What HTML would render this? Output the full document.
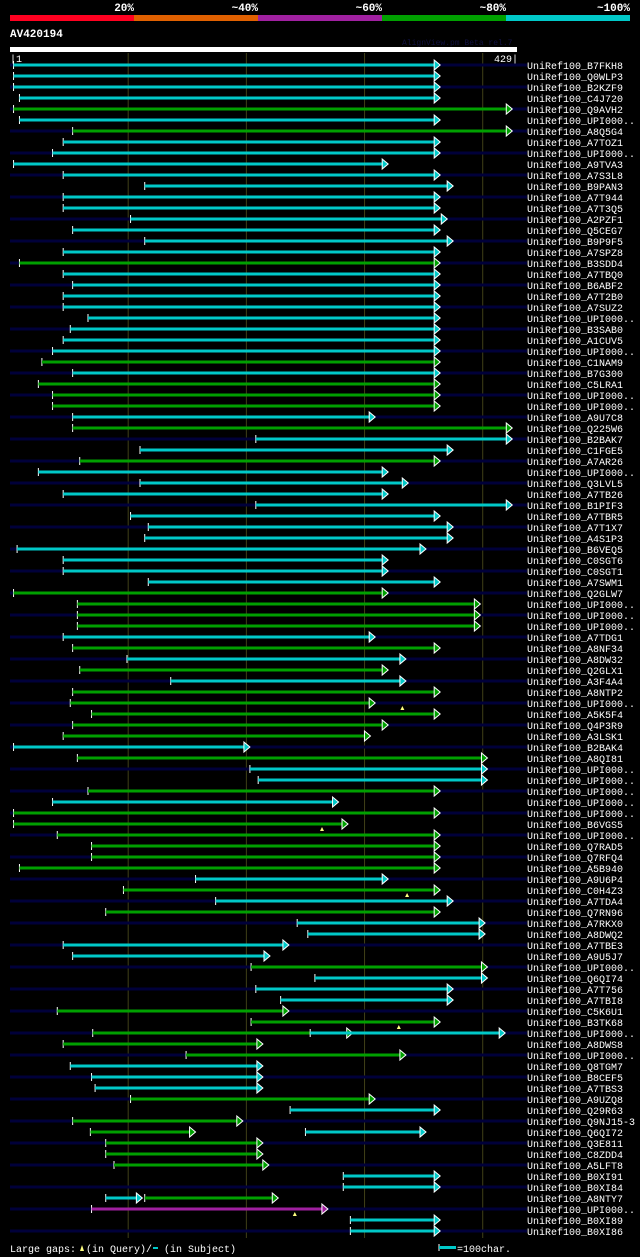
<!DOCTYPE html>
<html><head><meta charset="utf-8"><style>
html,body{margin:0;padding:0;background:#000;}
svg{display:block;}
text{font-family:"Liberation Mono","DejaVu Sans Mono",monospace;}
</style></head><body>
<svg id="chart" width="640" height="1257" viewBox="0 0 640 1257" xmlns="http://www.w3.org/2000/svg">
<rect width="640" height="1257" fill="#000"/>
<g>
<rect x="10" y="15" width="124" height="6" fill="#ff0020"/>
<rect x="134" y="15" width="124" height="6" fill="#e06000"/>
<rect x="258" y="15" width="124" height="6" fill="#a020a0"/>
<rect x="382" y="15" width="124" height="6" fill="#00a000"/>
<rect x="506" y="15" width="124" height="6" fill="#00c8c8"/>
<text x="134" y="11" fill="#fff" font-size="11" font-weight="bold" text-anchor="end">20%</text>
<text x="258" y="11" fill="#fff" font-size="11" font-weight="bold" text-anchor="end">~40%</text>
<text x="382" y="11" fill="#fff" font-size="11" font-weight="bold" text-anchor="end">~60%</text>
<text x="506" y="11" fill="#fff" font-size="11" font-weight="bold" text-anchor="end">~80%</text>
<text x="630" y="11" fill="#fff" font-size="11" font-weight="bold" text-anchor="end">~100%</text>
</g>
<text x="10" y="37" fill="#fff" font-size="11" font-weight="bold">AV420194</text>
<text x="402" y="45" fill="#101040" font-size="8">AlignView.pm Beta rel.7</text>
<rect x="10" y="47" width="507" height="5" fill="#fff"/>
<text x="10" y="62" fill="#fff" font-size="10">|1</text>
<text x="518" y="62" fill="#fff" font-size="10" text-anchor="end">429|</text>
<g id="grid"></g><g id="rows"></g>
<g>
<text x="10" y="1252" fill="#fff" font-size="10">Large gaps:</text>
<polygon points="80,1251 82,1245 84,1251" fill="#ffff80"/>
<text x="86" y="1252" fill="#fff" font-size="10">(in Query)/</text>
<line x1="153" y1="1248" x2="158" y2="1248" stroke="#00c8c8" stroke-width="2"/>
<text x="164" y="1252" fill="#fff" font-size="10">(in Subject)</text>
<line x1="439" y1="1244" x2="439" y2="1251" stroke="#fff"/>
<rect x="439" y="1246" width="17" height="3" fill="#00c8c8"/>
<text x="457" y="1252" fill="#fff" font-size="10">=100char.</text>
</g>
</svg>
<script>
const qLen = 429;
const gridTicks = [100, 200, 300, 400];
const names = ["B7FKH8","Q0WLP3","B2KZF9","C4J720","Q9AVH2","UPI000..","A8Q5G4","A7TOZ1","UPI000..","A9TVA3","A7S3L8","B9PAN3","A7T944","A7T3Q5","A2PZF1","Q5CEG7","B9P9F5","A7SPZ8","B3SDD4","A7TBQ0","B6ABF2","A7T2B0","A7SUZ2","UPI000..","B3SAB0","A1CUV5","UPI000..","C1NAM9","B7G300","C5LRA1","UPI000..","UPI000..","A9U7C8","Q225W6","B2BAK7","C1FGE5","A7AR26","UPI000..","Q3LVL5","A7TB26","B1PIF3","A7TBR5","A7T1X7","A4S1P3","B6VEQ5","C0SGT6","C0SGT1","A7SWM1","Q2GLW7","UPI000..","UPI000..","UPI000..","A7TDG1","A8NF34","A8DW32","Q2GLX1","A3F4A4","A8NTP2","UPI000..","A5K5F4","Q4P3R9","A3LSK1","B2BAK4","A8QI81","UPI000..","UPI000..","UPI000..","UPI000..","UPI000..","B6VGS5","UPI000..","Q7RAD5","Q7RFQ4","A5B940","A9U6P4","C0H4Z3","A7TDA4","Q7RN96","A7RKX0","A8DWQ2","A7TBE3","A9U5J7","UPI000..","Q6QI74","A7T756","A7TBI8","C5K6U1","B3TK68","UPI000..","A8DWS8","UPI000..","Q8TGM7","B8CEF5","A7TBS3","A9UZQ8","Q29R63","Q9NJ15-3","Q6QI72","Q3E811","C8ZDD4","A5LFT8","B0XI91","B0XI84","A8NTY7","UPI000..","B0XI89","B0XI86"];
const starts = [3,3,3,8,3,8,53,45,36,3,45,114,45,45,102,53,114,45,8,45,53,45,45,66,51,45,36,27,53,24,36,36,53,53,208,110,59,24,110,45,208,102,117,114,6,45,45,117,3,57,57,57,45,53,99,59,136,53,51,69,53,45,3,57,203,210,66,36,3,3,40,69,69,8,157,96,174,81,243,252,45,53,204,258,208,229,40,204,70,45,149,51,69,72,102,237,53,68,81,81,88,282,282,81,69,288,288];
const ends = [364,364,364,364,425,364,425,364,364,320,364,375,364,364,370,364,375,364,364,364,364,364,364,364,364,364,364,364,364,364,364,364,309,425,425,375,364,320,337,320,425,364,375,375,352,320,320,364,320,398,398,398,309,364,335,320,335,364,309,364,320,305,203,404,404,404,364,278,364,286,364,364,364,364,320,364,375,364,402,402,236,220,404,404,375,375,236,364,290,214,335,214,214,214,309,364,197,157,214,214,219,364,364,112,269,364,364];
const colors = [
"c","c","c","c","g","c","g","c","c","c",
"c","c","c","c","c","c","c","c","g","c",
"c","c","c","c","c","c","c","g","c","g",
"g","g","c","g","c","c","g","c","c","c",
"c","c","c","c","c","c","c","c","g","g",
"g","g","c","g","c","g","c","g","g","g",
"g","g","c","g","c","c","g","c","g","g",
"g","g","g","g","c","g","c","g","c","c",
"c","c","g","c","c","c","g","g","g","g",
"g","c","c","c","g","c","g","g","g","g",
"g","c","c","c","m","c","c"];
const extraRow = [88, 97, 103];
const extraStart = [254, 250, 114];
const extraEnd = [419, 352, 227];
const extraColor = ["c", "c", "g"];
const gapRow = [58, 69, 75, 87, 104];
const gapPos = [332, 264, 336, 329, 241];

const colorMap = {c:"#00c8c8", g:"#00a000", m:"#a020a0"};
const NS = "http://www.w3.org/2000/svg";
const xScale = p => 10 + p * (507 / qLen);
const yRow = i => 65 + i * 11;
function mk(tag, attrs, parent){const e=document.createElementNS(NS,tag);for(const k in attrs)e.setAttribute(k,attrs[k]);parent.appendChild(e);return e;}
const grid = document.getElementById("grid");
gridTicks.forEach(t=>{
  const l = mk("line",{x1:xScale(t),x2:xScale(t),y1:53,y2:1238,stroke:"#404018","stroke-width":1},grid);
  
  
});
const rows = document.getElementById("rows");
function seg(g, i, s, e, col){
  const y = yRow(i), x1 = xScale(s), x2 = xScale(e), c = colorMap[col];
  mk("line",{x1:x1,x2:x1,y1:y-4,y2:y+4,stroke:"#fff","stroke-width":1},g);
  mk("rect",{x:x1,y:y-1.5,width:Math.max(0,x2-x1-5),height:3,fill:c},g);
  mk("polygon",{points:`${x2-6},${y-5} ${x2},${y} ${x2-6},${y+5}`,fill:c,stroke:"#fff","stroke-width":1},g);
}
names.forEach((n,i)=>{
  const g = mk("g",{},rows);
  
  
  const y = yRow(i);
  if(i%2===0) mk("rect",{x:10,y:y-1.5,width:517,height:3,fill:"#00003a"},g);
  seg(g,i,starts[i],ends[i],colors[i]);
  const t = mk("text",{x:527,y:y+4,fill:"#fff","font-size":10},g);
  t.textContent = "UniRef100_" + n;
});
extraRow.forEach((r,k)=>{
  const g = mk("g",{},rows);
  
  
  seg(g,r,extraStart[k],extraEnd[k],extraColor[k]);
});
gapRow.forEach((r,k)=>{
  const x = xScale(gapPos[k]), y = yRow(r);
  const p = mk("polygon",{points:`${x-2},${y+7} ${x},${y+3} ${x+2},${y+7}`,fill:"#ffff80"},rows);
  
  
});
</script>
</body></html>
